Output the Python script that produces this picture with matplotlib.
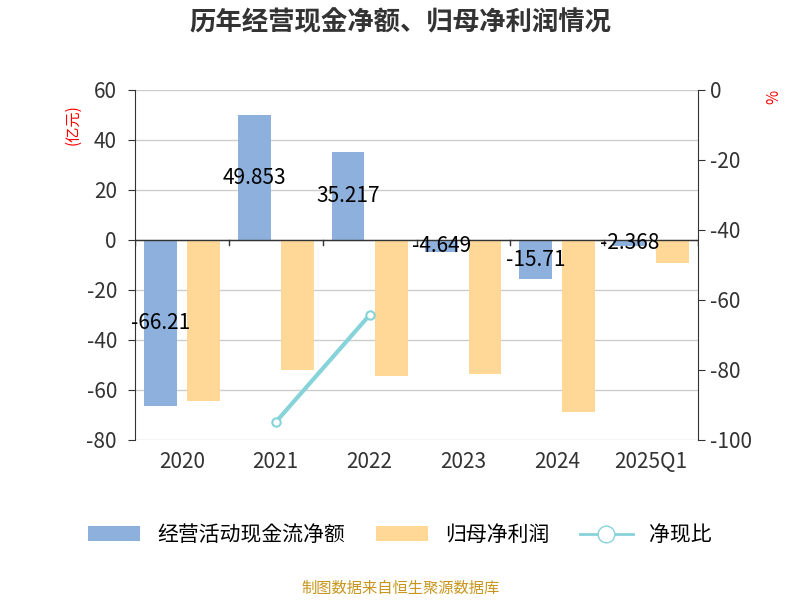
import matplotlib.pyplot as plt
import numpy as np
from matplotlib.lines import Line2D
from matplotlib.patches import Patch
from matplotlib import font_manager

cjk = [f.name for f in font_manager.fontManager.ttflist if 'CJK' in f.name]
plt.rcParams['font.family'] = 'sans-serif'
plt.rcParams['font.sans-serif'] = (['Noto Sans CJK SC'] if 'Noto Sans CJK SC' in cjk else cjk[:1]) + ['DejaVu Sans']
plt.rcParams['axes.unicode_minus'] = False

categories = ['2020', '2021', '2022', '2023', '2024', '2025Q1']
cash_flow = [-66.21, 49.853, 35.217, -4.649, -15.71, -2.368]
net_profit = [-64.4, -52.0, -54.4, -53.6, -68.8, -9.2]
ratio_x = [1, 2]
ratio = [-94.9, -64.3]

C_BLUE = '#8eb0dc'
C_ORANGE = '#ffd898'
C_LINE = '#86d3d9'

fig = plt.figure(figsize=(8, 6), dpi=100)
ax = fig.add_axes([135/800, 1-440/600, 563/800, 350/600])
x = np.arange(len(categories))
w = 0.35
ax.bar(x - 0.23, cash_flow, w, color=C_BLUE, zorder=3)
ax.bar(x + 0.23, net_profit, w, color=C_ORANGE, zorder=3)
for xi, v in zip(x, cash_flow):
    ax.text(xi - 0.23, v / 2, f'{v:g}', ha='center', va='center', fontsize=15, zorder=5)
ax.set_xlim(-0.5, len(categories) - 0.5)
ax.set_ylim(-80, 60)
ax.set_yticks(range(-80, 61, 20))
ax.set_xticks(x)
ax.set_xticklabels(categories)
ax.tick_params(axis='both', labelsize=15, colors='#333333', length=0, pad=8)
ax.tick_params(axis='y', length=5)
ax.grid(axis='y', color='#cccccc', lw=1, zorder=0)
ax.axhline(0, color='#333333', lw=1, zorder=4)
for b in np.arange(-0.5, len(categories), 1):
    ax.plot([b, b], [0, -2], color='#333333', lw=1, zorder=4)
for s in ['top', 'right', 'bottom']:
    ax.spines[s].set_visible(False)
ax.spines['left'].set_color('#333333')
ax.text(-0.11, 0.96, '(亿元)', transform=ax.transAxes, rotation=90, color='red',
        fontsize=11, ha='center', va='top')

ax2 = ax.twinx()
ax2.set_ylim(-100, 0)
ax2.set_yticks(range(-100, 1, 20))
ax2.plot(ratio_x, ratio, color=C_LINE, lw=3, marker='o', markersize=6,
         markerfacecolor='white', markeredgecolor=C_LINE, markeredgewidth=1.5, zorder=6)
ax2.tick_params(axis='y', labelsize=15, colors='#333333', length=5)
for s in ['top', 'left', 'bottom']:
    ax2.spines[s].set_visible(False)
ax2.spines['right'].set_color('#333333')
ax2.text(1.135, 1.0, '%', transform=ax2.transAxes, rotation=90, color='red',
         fontsize=11, ha='center', va='top')

fig.text(0.5, 0.962, '历年经营现金净额、归母净利润情况', ha='center', va='center',
         fontsize=19, fontweight='bold', color='#333333')

handles = [Patch(facecolor=C_BLUE, label='经营活动现金流净额'),
           Patch(facecolor=C_ORANGE, label='归母净利润'),
           Line2D([], [], color=C_LINE, lw=2, marker='o', markersize=12,
                  markerfacecolor='white', label='净现比')]
fig.legend(handles=handles, loc='center', bbox_to_anchor=(0.5, 1-535/600), ncol=3,
           frameon=False, fontsize=15, handlelength=2.5, columnspacing=1.5)
fig.text(0.5, 1-588/600, '制图数据来自恒生聚源数据库', ha='center', va='center',
         fontsize=11, color='#c8961e')

fig.savefig('out.png', dpi=100)
